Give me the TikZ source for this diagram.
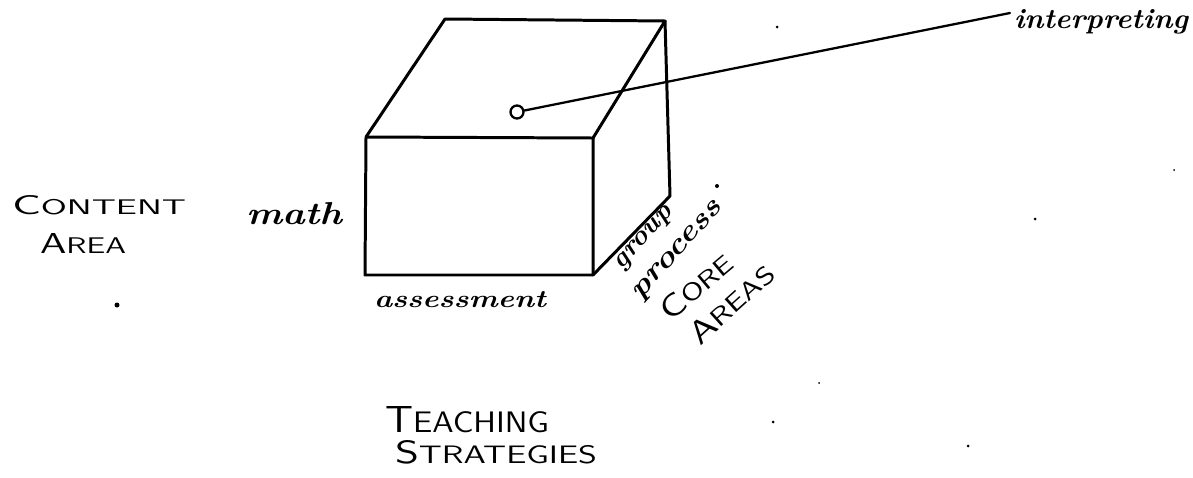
\documentclass[tikz,border=0pt]{standalone}
\usepackage[T1,TU]{fontenc}
\newlength\px
\setlength\px{0.02cm}
\newcommand\handfont{\bfseries\itshape}
\newcommand\capsword[2]{{\sffamily{\fontsize{14}{14}\selectfont #1}{\fontsize{11}{11}\selectfont #2}}}
\tikzset{
  edge/.style={line width=1.7pt, line join=round, line cap=round},
  lbl/.style={inner sep=0pt, outer sep=0pt, anchor=base west},
  speck/.style={circle, fill=black, inner sep=0pt, minimum size=#1},
  speck/.default=3\px
}
\begin{document}
\begin{tikzpicture}[x=0.02cm, y=-0.02cm]
\useasboundingbox (0,0) rectangle (1193,477);
% cube corners
\coordinate (A) at (366,137);
\coordinate (B) at (593,138);
\coordinate (C) at (593,275);
\coordinate (D) at (365,275);
\coordinate (E) at (445,19);
\coordinate (F) at (665,21);
\coordinate (G) at (670,196);
\draw[edge] (D) -- (A) -- (B) -- (C) -- cycle;
\draw[edge] (A) -- (E) -- (F) -- (B);
\draw[edge] (F) -- (G) -- (C);
% point and leader
\node[draw, circle, line width=1.3pt, minimum size=13\px, inner sep=0pt] (dot) at (517,112) {};
\coordinate (iend) at (1010,13);
\draw[line width=1.3pt, line cap=round] (dot) -- (iend);
\node[lbl] (interp) at (1014,28) {\resizebox{174\px}{19\px}{\handfont interpreting}};
% left labels
\node[lbl] (content) at (12,214) {\resizebox{174\px}{19\px}{\capsword{C}{ONTENT}}};
\node[lbl] (area) at (40,253) {\resizebox{86\px}{20\px}{\capsword{A}{REA}}};
\node[lbl] (math) at (246,224) {\resizebox{96\px}{22\px}{\handfont math}};
\node[lbl] (assess) at (374,307) {\resizebox{172\px}{16\px}{\handfont assessment}};
% rotated labels
\node[lbl, rotate=48] (group) at (621,270) {\resizebox{78\px}{12\px}{\handfont group}};
\node[lbl, rotate=48] (process) at (640,300) {\resizebox{124\px}{13\px}{\handfont process}};
\node[lbl, rotate=40] (core) at (670,322) {\resizebox{86\px}{22\px}{\capsword{C}{ORE}}};
\node[lbl, rotate=42] (areas) at (700,346) {\resizebox{104\px}{22\px}{\capsword{A}{REAS}}};
% bottom labels
\node[lbl] (teach) at (385,432) {\resizebox{164\px}{26\px}{\capsword{T}{EACHING}}};
\node[lbl] (strat) at (395,463) {\resizebox{202\px}{23\px}{\capsword{S}{TRATEGIES}}};
% specks
\node[speck=5\px] (s1) at (117,305) {};
\node[speck=4\px] (s2) at (717,186) {};
\node[speck] (s3) at (1035,219) {};
\node[speck] (s4) at (968,446) {};
\node[speck] (s5) at (773,422) {};
\node[speck=2\px] (s6) at (1174,170) {};
\node[speck=2\px] (s7) at (819,383) {};
\node[speck=3\px] (s8) at (777,27) {};
\end{tikzpicture}
\end{document}
